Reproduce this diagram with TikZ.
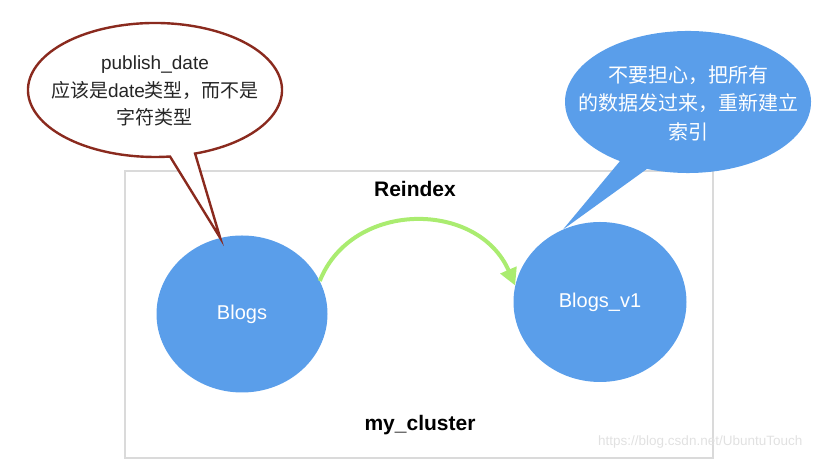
\documentclass[tikz,border=0pt]{standalone}
\usepackage{fontspec}
\setmainfont{Liberation Sans}
\newfontfamily\cjk{Noto Sans CJK SC}
\usetikzlibrary{shapes.geometric,arrows.meta,calc}
\definecolor{bubbleblue}{RGB}{90,158,234}
\definecolor{bubblered}{RGB}{138,42,30}
\definecolor{arrowgreen}{RGB}{170,236,112}
\definecolor{framegray}{RGB}{218,218,218}
\definecolor{markgray}{RGB}{225,225,225}
\tikzset{
  x=1pt, y=1pt,
  index/.style={ellipse, fill=bubbleblue, text=white, inner sep=0pt,
    font=\fontsize{20}{24}\selectfont},
  title/.style={font=\bfseries\fontsize{21}{25}\selectfont, text=black},
  notetext/.style={align=center, font=\fontsize{19}{27.5}\selectfont},
}
\begin{document}
\begin{tikzpicture}
\useasboundingbox (0,0) rectangle (823,470);
% cluster frame
\node[draw=framegray, line width=1.2pt, minimum width=588, minimum height=287, inner sep=0pt] (cluster) at (419,155.5) {};
\node[title] (reindex) at (415,281) {Reindex};
\node[title] (mycluster) at (420,45) {my\_cluster};
% indices
\node[index, minimum width=171, minimum height=157] (blogs) at (242,156) {Blogs};
\node[index, minimum width=173, minimum height=160] (v1) at (600,168) {Blogs\_v1};
% reindex arrow
\draw[arrowgreen, line width=4pt, -{Triangle[length=17pt,width=17pt]}]
  (blogs.23) .. controls (352,270) and (478,270) .. (v1.169);
% red speech bubble
\coordinate (redtip) at (blogs.106);
\draw[bubblered, line width=2.4pt, fill=white, line join=miter]
  ($(155,380)+(-71.6:127 and 67)$) arc[start angle=-71.6, end angle=276.8, x radius=127, y radius=67]
  -- (redtip) -- cycle;
\node[notetext, text=black!85] (note1) at (155,379)
  {publish\_date\\{\cjk 应该是}date{\cjk 类型，而不是}\\{\cjk 字符类型}};
% blue speech bubble
\coordinate (bluetip) at (v1.117);
\fill[bubbleblue]
  ($(688,368)+(-109.5:123 and 71)$) arc[start angle=-109.5, end angle=236.4, x radius=123, y radius=71]
  -- (bluetip) -- cycle;
\node[notetext, text=white, font=\fontsize{20}{28.5}\selectfont] (note2) at (688,367)
  {{\cjk 不要担心，把所有}\\{\cjk 的数据发过来，重新建立}\\{\cjk 索引}};
% watermark
\node[anchor=base west, text=markgray, font=\fontsize{13.5}{16}\selectfont, inner sep=0pt] (mark) at (598,24) {https://blog.csdn.net/UbuntuTouch};
\end{tikzpicture}
\end{document}
